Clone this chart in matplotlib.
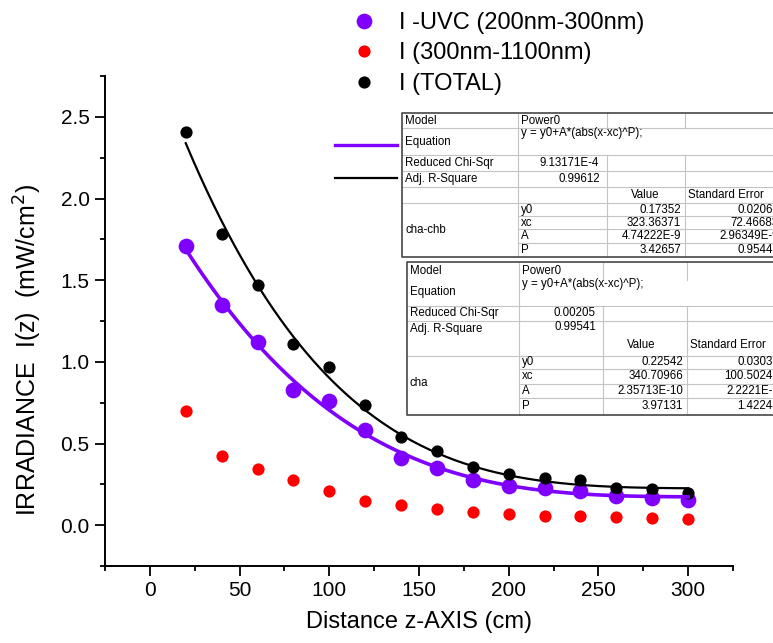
import numpy as np
import matplotlib
matplotlib.use("Agg")
import matplotlib.pyplot as plt
from matplotlib.transforms import Affine2D
from matplotlib.patches import Rectangle
from matplotlib.lines import Line2D

plt.rcParams['font.family'] = ['Liberation Sans', 'DejaVu Sans']

# data
z = [20, 40, 60, 80, 100, 120, 140, 160, 180, 200, 220, 240, 260, 280, 300]
i_uvc = [1.709, 1.349, 1.123, 0.830, 0.758, 0.585, 0.413, 0.351, 0.277, 0.240,
         0.230, 0.209, 0.179, 0.168, 0.152]
i_vis = [0.698, 0.425, 0.345, 0.275, 0.209, 0.148, 0.123, 0.098, 0.080, 0.066,
         0.055, 0.055, 0.049, 0.045, 0.039]
i_tot = [2.410, 1.780, 1.470, 1.107, 0.970, 0.737, 0.542, 0.456, 0.357, 0.312,
         0.288, 0.275, 0.230, 0.220, 0.195]

labels = ['I -UVC (200nm-300nm)', 'I (300nm-1100nm)', 'I (TOTAL)']

# fit parameters shown in the tables (Power0: y = y0 + A*|x-xc|^P)
fit_uvc = dict(y0=0.17352, xc=323.36371, A=4.74222E-9, P=3.42657)
fit_tot = dict(y0=0.22542, xc=340.70966, A=2.35713E-10, P=3.97131)
se_uvc = ['0.02068', '72.46683', '2.96349E-9', '0.95448']
se_tot = ['0.03033', '100.50243', '2.2221E-9', '1.42248']

PURPLE = '#7f00ff'
RED = '#ff0000'

W, H = 773, 643
fig = plt.figure(figsize=(W / 100, H / 100), dpi=100)
ax = fig.add_axes([105 / W, 1 - 566 / H, 628 / W, 490 / H])

h1, = ax.plot(z, i_uvc, 'o', color=PURPLE, ms=11.3, mec='none')
h2, = ax.plot(z, i_vis, 'o', color=RED, ms=8.8, mec='none')
h3, = ax.plot(z, i_tot, 'o', color='k', ms=8.8, mec='none')


def power0(x, p):
    return p['y0'] + p['A'] * np.abs(x - p['xc']) ** p['P']


xf = np.linspace(z[0], z[-1], 300)
ax.plot(xf, power0(xf, fit_uvc), color=PURPLE, lw=2.6)
ax.plot(xf, power0(xf, fit_tot), color='k', lw=1.6)

ax.set_xlim(-25, 325)
ax.set_ylim(-0.25, 2.75)
ax.set_xticks([0, 50, 100, 150, 200, 250, 300])
ax.set_xticks(np.arange(-25, 326, 25), minor=True)
ax.set_yticks([0, 0.5, 1.0, 1.5, 2.0, 2.5])
ax.set_yticks(np.arange(-0.25, 2.76, 0.25), minor=True)
ax.yaxis.set_major_formatter(plt.FormatStrFormatter('%.1f'))
for s in ['top', 'right']:
    ax.spines[s].set_visible(False)
for s in ['left', 'bottom']:
    ax.spines[s].set_linewidth(1.4)
ax.tick_params(which='major', length=7, width=1.3, labelsize=15, pad=4)
ax.tick_params(which='minor', length=3.6, width=1.3)

ax.set_xlabel('Distance z-AXIS (cm)', fontsize=17, labelpad=8)
ax.set_ylabel('IRRADIANCE  I(z)  (mW/cm$^2$)', fontsize=18)
ax.yaxis.set_label_coords(-0.097, 0.44)

leg = ax.legend([h1, h2, h3], labels, loc='upper left', frameon=False,
                bbox_to_anchor=(351 / W, 1 - 12 / H), bbox_transform=fig.transFigure,
                fontsize=17, handlelength=1.1, handletextpad=0.95,
                labelspacing=0.36, borderpad=0, borderaxespad=0)

# pixel coordinates (origin top-left) for the fit report tables
px = Affine2D().scale(1 / W, -1 / H).translate(0, 1) + fig.transFigure
GRID = '#c4c4c4'
EDGE = '#555555'
TFS = 8.3


def hline(y, x0, x1, c=GRID):
    fig.add_artist(Line2D([x0, x1], [y, y], color=c, lw=0.8, transform=px))


def vline(x, y0, y1, c=GRID):
    fig.add_artist(Line2D([x, x], [y0, y1], color=c, lw=0.8, transform=px))


def txt(x, y, s, ha='left'):
    fig.text(x, y, s, transform=px, fontsize=TFS, ha=ha, va='center')


def report(left, top, bottom, cols, rows, segs, name, chi, r2, p, se, t):
    fig.add_artist(Rectangle((left, top), 420, bottom - top, transform=px,
                             facecolor='white', edgecolor='none', zorder=0))
    for y in rows['full']:
        hline(y, left, 800)
    for y in rows['params']:
        hline(y, cols[0], 800)
    vline(cols[0], top, bottom)
    for c in cols[1:]:
        for y0, y1 in segs:
            vline(c, y0, y1)
    fig.add_artist(Line2D([800, left, left, 800], [top, top, bottom, bottom],
                          color=EDGE, lw=1.3, transform=px))
    txt(left + 3, t['model'], 'Model')
    txt(cols[0] + 3, t['model'], 'Power0')
    txt(left + 3, t['eq'], 'Equation')
    txt(cols[0] + 3, t['eqv'], 'y = y0+A*(abs(x-xc)^P);')
    txt(left + 3, t['chi'], 'Reduced Chi-Sqr')
    txt(cols[1] - 8, t['chi'], chi, 'right')
    txt(left + 3, t['r2'], 'Adj. R-Square')
    txt(cols[1] - 7, t['r2v'], r2, 'right')
    txt(cols[1] + 24, t['hdr'], 'Value')
    txt(cols[2] + 3, t['hdr'], 'Standard Error')
    txt(left + 3, t['name'], name)
    vals = ['%.5f' % p['y0'], '%.5f' % p['xc'],
            ('%.5E' % p['A']).replace('E-0', 'E-'), '%.5f' % p['P']]
    for y, k, v, e in zip(t['par'], ['y0', 'xc', 'A', 'P'], vals, se):
        txt(cols[0] + 3, y, k)
        txt(cols[2] - 4, y, v, 'right')
        txt(779, y, e, 'right')


report(402, 113, 257, [518, 607, 685],
       {'full': [128, 155, 171, 187, 203], 'params': [216, 229, 243]},
       [(113, 128), (155, 257)], 'cha-chb', '9.13171E-4', '0.99612', fit_uvc, se_uvc,
       {'model': 121, 'eq': 142, 'eqv': 133, 'chi': 163, 'r2': 179, 'r2v': 179,
        'hdr': 195, 'name': 230, 'par': [210, 223, 236, 250]})

report(407, 262, 415, [519, 603, 687],
       {'full': [306, 321, 356], 'params': [369, 384, 398]},
       [(262, 280), (306, 415)], 'cha', '0.00205', '0.99541', fit_tot, se_tot,
       {'model': 271, 'eq': 292, 'eqv': 284, 'chi': 313, 'r2': 329, 'r2v': 327,
        'hdr': 345, 'name': 383, 'par': [362, 376, 391, 406]})

# line keys beside the first table
fig.add_artist(Line2D([335, 397], [145, 145], color=PURPLE, lw=2.4, transform=px))
fig.add_artist(Line2D([335, 397], [178, 178], color='k', lw=1.6, transform=px))

fig.savefig('out.png', dpi=100)
